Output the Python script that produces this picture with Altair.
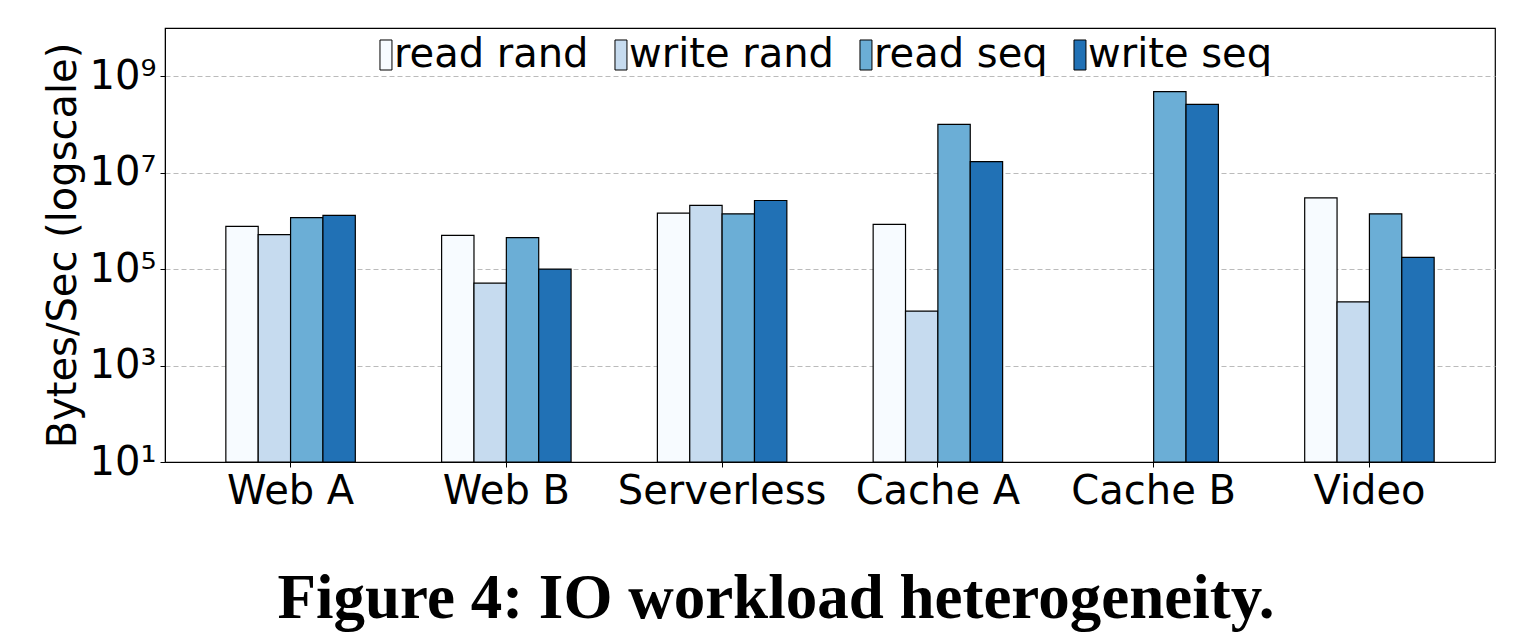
import altair as alt
import pandas as pd

categories = ["Web A", "Web B", "Serverless", "Cache A", "Cache B", "Video"]
series = ["read rand", "write rand", "read seq", "write seq"]
read_rand = [7.7e5, 5.0e5, 1.45e6, 8.5e5, None, 3.0e6]
write_rand = [5.2e5, 5.1e4, 2.1e6, 1.35e4, None, 2.1e4]
read_seq = [1.17e6, 4.5e5, 1.4e6, 1.0e8, 4.8e8, 1.4e6]
write_seq = [1.3e6, 1.0e5, 2.65e6, 1.7e7, 2.6e8, 1.75e5]
colors = ["#f7fbff", "#c6dbef", "#6baed6", "#2171b5"]
tick_values = [10, 1e3, 1e5, 1e7, 1e9]
tick_labels = ["10¹", "10³", "10⁵", "10⁷", "10⁹"]

rows = []
for s, vals in zip(series, [read_rand, write_rand, read_seq, write_seq]):
    for c, v in zip(categories, vals):
        if v is not None:
            rows.append({"category": c, "series": s, "value": v})
df = pd.DataFrame(rows)

label_expr = ""
for tv, tl in zip(tick_values, tick_labels):
    label_expr += f"abs(datum.value - {tv}) < {tv}*0.01 ? '{tl}' : "
label_expr += "''"

FONT = "DejaVu Sans"

chart = alt.Chart(df).mark_bar(stroke="black", strokeWidth=1.2).encode(
    x=alt.X("category:N", sort=categories, title=None,
            scale=alt.Scale(paddingInner=0.4, paddingOuter=0.282),
            axis=alt.Axis(labelAngle=0, labelFontSize=40, labelFont=FONT,
                          labelColor="black", tickSize=5, tickColor="black",
                          domainColor="black", labelPadding=4, grid=False,
                          labelLimit=0)),
    xOffset=alt.XOffset("series:N", sort=series),
    y=alt.Y("value:Q", title="Bytes/Sec (logscale)",
            scale=alt.Scale(type="log", domain=[10, 1e10], nice=False),
            axis=alt.Axis(values=tick_values, labelExpr=label_expr,
                          labelFontSize=40, labelFont=FONT, labelColor="black",
                          titleFontSize=40, titleFont=FONT, titleFontWeight="normal",
                          titleColor="black", titlePadding=6,
                          tickSize=5, tickColor="black", domainColor="black",
                          labelPadding=4, gridDash=[5, 3], gridColor="#bbbbbb",
                          gridWidth=1)),
    y2=alt.Y2(datum=10),
    color=alt.Color("series:N", sort=series,
                    scale=alt.Scale(domain=series, range=colors),
                    legend=alt.Legend(title=None, orient="none", direction="horizontal",
                                      legendX=189, legendY=7,
                                      labelFontSize=40, labelFont=FONT, labelColor="black",
                                      labelLimit=0,
                                      symbolType="M1.09,-2.74H3.28V2.74H1.09Z", symbolSize=120,
                                      symbolStrokeColor="black", symbolStrokeWidth=1,
                                      labelOffset=0, columnPadding=0, padding=0)),
).properties(
    width=1330, height=434,
    title=alt.TitleParams("Figure 4: IO workload heterogeneity.", orient="bottom",
                          font="Liberation Serif", fontSize=63, fontWeight="bold",
                          color="black", offset=57, dx=-54, anchor="middle"),
    autosize=alt.AutoSizeParams(type="none"),
    padding={"left": 165, "top": 28, "right": 35, "bottom": 176},
).configure_view(stroke="black", strokeWidth=1.2)

chart.save("out.html", embed_options={"renderer": "svg", "actions": False})
